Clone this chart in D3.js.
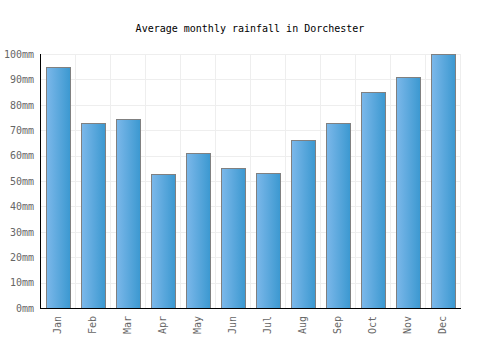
<!DOCTYPE html>
<html><head><meta charset="utf-8">
<script src="https://cdn.jsdelivr.net/npm/d3@7"></script>
<style>body{margin:0;background:#fff}svg{display:block}</style>
</head><body>
<script>
const months = ["Jan","Feb","Mar","Apr","May","Jun","Jul","Aug","Sep","Oct","Nov","Dec"];
const rainfall = [95, 73, 74.5, 52.6, 61, 55, 53, 66, 72.7, 85, 91, 100];
const yTicks = [0,10,20,30,40,50,60,70,80,90,100];
const title = "Average monthly rainfall in Dorchester";

const W = 500, H = 350;
const m = {left: 40, right: 40, top: 54, bottom: 42};
const FONT = "'DejaVu Sans Mono', monospace";
const svg = d3.select("body").append("svg").attr("width", W).attr("height", H)
  .style("font-family", FONT);

const defs = svg.append("defs");
const g1 = defs.append("linearGradient").attr("id","bg").attr("x1","0").attr("x2","1").attr("y1","0").attr("y2","0");
g1.append("stop").attr("offset","0%").attr("stop-color","#7cb8ea");
g1.append("stop").attr("offset","100%").attr("stop-color","#3b98d0");

const x = d3.scaleBand().domain(months).range([m.left, W - m.right]).paddingInner(0.32).paddingOuter(0.16);
const y = d3.scaleLinear().domain([0,100]).range([H - m.bottom, m.top]);

// grid
const grid = svg.append("g").attr("stroke","#eeeeee").attr("stroke-width",1);
yTicks.forEach(t => grid.append("line").attr("x1", m.left).attr("x2", W - m.right)
  .attr("y1", Math.round(y(t))+0.5).attr("y2", Math.round(y(t))+0.5));
const step = x.step();
months.forEach((d,i) => {
  const xv = Math.round(m.left + step*(i+1)) + 0.5;
  grid.append("line").attr("x1", xv).attr("x2", xv).attr("y1", y(100)).attr("y2", y(0));
});

// bars
svg.append("g").selectAll("rect").data(rainfall).join("rect")
  .attr("x", (d,i) => Math.round(x(months[i])) + 0.5)
  .attr("y", d => Math.round(y(d)) + 0.5)
  .attr("width", Math.round(x.bandwidth()))
  .attr("height", d => Math.round(y(0)) - Math.round(y(d)))
  .attr("fill", "url(#bg)")
  .attr("stroke", "#808080").attr("stroke-width", 1);

// axes
const yAxis = svg.append("g").attr("transform", `translate(${m.left},0)`)
  .call(d3.axisLeft(y).tickValues(yTicks).tickSize(0).tickPadding(6).tickFormat(d => d + "mm"));
yAxis.select(".domain").remove();
yAxis.selectAll("text").attr("fill","#666").style("font-size","10px")
  .style("font-family", FONT);

const xAxis = svg.append("g").attr("transform", `translate(0,${y(0)})`)
  .call(d3.axisBottom(x).tickSize(0));
xAxis.select(".domain").remove();
xAxis.selectAll("text").attr("fill","#666").style("font-size","10px")
  .style("font-family", FONT)
  .attr("transform","rotate(-90)").attr("text-anchor","end")
  .attr("x", -8).attr("y", 0).attr("dy","0.35em");

svg.append("line").attr("x1", m.left+0.5).attr("x2", m.left+0.5).attr("y1", y(100)).attr("y2", y(0)+0.5)
  .attr("stroke","#000").attr("stroke-width",1);
svg.append("line").attr("x1", m.left).attr("x2", W - m.right + 1).attr("y1", Math.round(y(0))+0.5).attr("y2", Math.round(y(0))+0.5)
  .attr("stroke","#000").attr("stroke-width",1);

svg.append("text").attr("x", W/2).attr("y", 32).attr("text-anchor","middle")
  .attr("fill","#000").style("font-size","10px").text(title);
</script>
</body></html>
